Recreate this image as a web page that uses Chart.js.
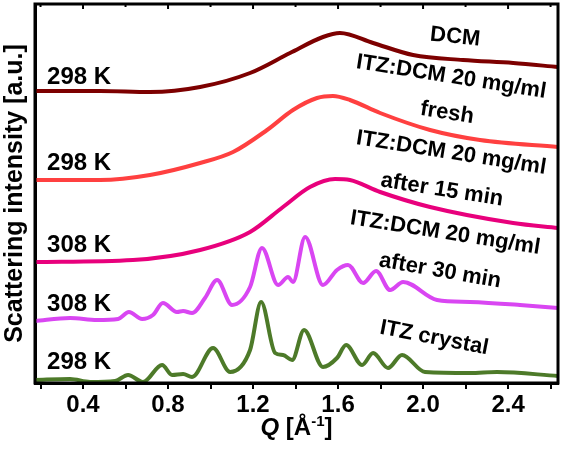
<!DOCTYPE html>
<html>
<head>
<meta charset="utf-8">
<script src="https://cdn.jsdelivr.net/npm/chart.js@4.4.0/dist/chart.umd.min.js"></script>
<style>
  html, body { margin: 0; padding: 0; background: #fff; }
  #wrap { width: 563px; height: 451px; }
</style>
</head>
<body>
<div id="wrap"><canvas id="chart"></canvas></div>
<script>
// Q values [1/A] and scattering intensity (a.u., curves already offset)
const qDCM = [0.174, 0.480, 0.715, 0.951, 1.186, 1.374, 1.529, 1.609, 1.765, 1.953, 2.188, 2.424, 2.635];
const iDCM = [292, 292, 291, 296, 310, 330, 346, 350, 340, 328, 323, 320, 316];

const qFresh = [0.174, 0.480, 0.715, 0.951, 1.106, 1.266, 1.388, 1.501, 1.576, 1.656, 1.798, 2.033, 2.268, 2.635];
const iFresh = [203, 203, 208, 220, 231, 253, 273, 285, 287, 283, 270, 253, 243, 236];

const q15 = [0.174, 0.635, 0.951, 1.186, 1.341, 1.468, 1.586, 1.656, 1.798, 2.033, 2.424, 2.635];
const i15 = [121, 123, 133, 151, 176, 196, 204, 203, 191, 176, 160, 155];

const q30 = [0.174, 0.339, 0.466, 0.565, 0.616, 0.678, 0.729, 0.776, 0.842, 0.871, 0.913, 0.974, 1.031, 1.101, 1.186, 1.242,
  1.318, 1.365, 1.388, 1.445, 1.529, 1.595, 1.647, 1.718, 1.779, 1.845, 1.906, 2.066, 2.221, 2.456, 2.635];
const i30 = [62, 65, 63, 64, 71, 64, 68, 80, 71, 72, 70, 85, 103, 78, 96, 135,
  98, 106, 101, 146, 98, 113, 118, 100, 112, 93, 101, 83, 81, 78, 75];

const qCryst = [0.174, 0.339, 0.433, 0.551, 0.612, 0.682, 0.772, 0.819, 0.871, 0.913, 1.012, 1.092, 1.186, 1.238, 1.304,
  1.341, 1.384, 1.440, 1.529, 1.595, 1.638, 1.713, 1.765, 1.835, 1.901, 2.009, 2.221, 2.348, 2.635];
const iCryst = [3, 4, 1, 2, 8, 1, 18, 8, 9, 6, 35, 11, 33, 81, 30,
  28, 23, 53, 16, 25, 38, 18, 30, 15, 28, 11, 10, 11, 7];

// temperature labels on the left, sample labels on the right (q, intensity, angle)
const tempLabels = ['298 K', '298 K', '308 K', '308 K', '298 K'];
const tempY = [306, 220, 138, 79, 21];
const sampleLabels = ['DCM', 'ITZ:DCM 20 mg/ml', 'fresh', 'ITZ:DCM 20 mg/ml', 'after 15 min',
  'ITZ:DCM 20 mg/ml', 'after 30 min', 'ITZ crystal'];
const sampleQ = [2.151, 2.132, 2.113, 2.132, 2.089, 2.104, 2.080, 2.052];
const sampleY = [346, 306, 270, 230, 193, 150, 112, 45];
const sampleRot = [6, 9, 9, 9, 9, 9, 10, 11];

const FONT = 'Arial, "Liberation Sans", sans-serif';

const pts = (q, v) => q.map((x, i) => ({ x, y: v[i] }));

const series = [
  { label: 'DCM', data: pts(qDCM, iDCM), color: '#7d0000' },
  { label: 'fresh', data: pts(qFresh, iFresh), color: '#ff4040' },
  { label: 'after 15 min', data: pts(q15, i15), color: '#e8007c' },
  { label: 'after 30 min', data: pts(q30, i30), color: '#d946f2' },
  { label: 'ITZ crystal', data: pts(qCryst, iCryst), color: '#4d7a29' },
];

const decor = {
  id: 'decor',
  afterDraw(chart) {
    const { ctx, chartArea: a, scales: { x, y } } = chart;
    ctx.save();
    // frame
    ctx.strokeStyle = '#000';
    ctx.lineWidth = 3;
    ctx.strokeRect(a.left, a.top, a.right - a.left, a.bottom - a.top);
    // inward ticks on top edge
    ctx.lineWidth = 2;
    x.ticks.forEach(t => {
      const px = x.getPixelForValue(t.value);
      ctx.beginPath();
      ctx.moveTo(px, a.top);
      ctx.lineTo(px, a.top + (t.label ? 5 : 3));
      ctx.stroke();
    });
    ctx.fillStyle = '#000';
    // left temperature labels
    ctx.font = 'bold 24px ' + FONT;
    ctx.textAlign = 'left';
    ctx.textBaseline = 'middle';
    tempLabels.forEach((s, i) => ctx.fillText(s, x.getPixelForValue(0.231), y.getPixelForValue(tempY[i])));
    // sample labels, tilted
    ctx.font = 'bold 22px ' + FONT;
    ctx.textAlign = 'center';
    sampleLabels.forEach((s, i) => {
      ctx.save();
      ctx.translate(x.getPixelForValue(sampleQ[i]), y.getPixelForValue(sampleY[i]));
      ctx.rotate(sampleRot[i] * Math.PI / 180);
      ctx.fillText(s, 0, 0);
      ctx.restore();
    });
    // x axis title: Q [Å^-1]
    const parts = [
      { t: 'Q', f: 'italic bold 24px ' + FONT, dy: 0 },
      { t: ' [Å', f: 'bold 24px ' + FONT, dy: 0 },
      { t: '-1', f: 'bold 15px ' + FONT, dy: -9 },
      { t: ']', f: 'bold 24px ' + FONT, dy: 0 },
    ];
    let w = 0;
    parts.forEach(p => { ctx.font = p.f; p.w = ctx.measureText(p.t).width; w += p.w; });
    let cx = (a.left + a.right) / 2 - w / 2;
    const base = x.bottom - 16;
    ctx.textAlign = 'left';
    ctx.textBaseline = 'alphabetic';
    parts.forEach(p => { ctx.font = p.f; ctx.fillText(p.t, cx, base + p.dy); cx += p.w; });
    ctx.restore();
  }
};

new Chart(document.getElementById('chart'), {
  type: 'line',
  data: {
    datasets: series.map(s => ({
      label: s.label,
      data: s.data,
      borderColor: s.color,
      backgroundColor: s.color,
      borderWidth: 4,
      pointRadius: 0,
      cubicInterpolationMode: 'monotone',
      fill: false,
    }))
  },
  options: {
    responsive: true,
    maintainAspectRatio: false,
    animation: false,
    events: [],
    layout: { padding: { top: 4, right: 5, left: 0, bottom: 0 } },
    plugins: { legend: { display: false }, tooltip: { enabled: false } },
    scales: {
      x: {
        type: 'linear',
        min: 0.174,
        max: 2.635,
        border: { display: true, color: '#000', width: 3 },
        grid: { drawOnChartArea: false, drawTicks: true, tickLength: 6, color: '#000', lineWidth: 2 },
        ticks: {
          stepSize: 0.2,
          includeBounds: false,
          autoSkip: false,
          maxRotation: 0,
          padding: 2,
          color: '#000',
          font: { family: FONT, size: 24, weight: 'bold' },
          callback: v => (Math.round(v * 10) % 4 === 0 ? (Math.round(v * 10) / 10).toFixed(1) : '')
        },
        afterFit: s => { s.height = 68; }
      },
      y: {
        min: 0,
        max: 379,
        border: { display: true, color: '#000', width: 3 },
        grid: { display: false },
        ticks: { display: false },
        title: {
          display: true,
          text: 'Scattering intensity [a.u.]',
          color: '#000',
          padding: 0,
          font: { family: FONT, size: 25, weight: 'bold' }
        },
        afterFit: s => { s.width = 35; }
      }
    }
  },
  plugins: [decor]
});
</script>
</body>
</html>
